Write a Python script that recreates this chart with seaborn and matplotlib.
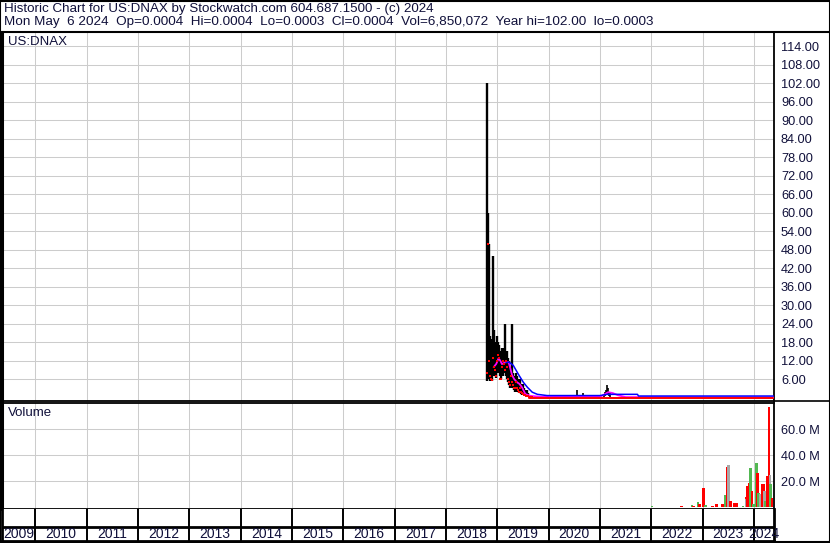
import matplotlib
matplotlib.use("Agg")

import matplotlib.pyplot as plt
import seaborn as sns
import numpy as np
from matplotlib.lines import Line2D

sns.set_style("white")
plt.rcParams["font.family"] = ["Liberation Sans", "DejaVu Sans"]

# header text
title_1 = "Historic Chart for US:DNAX by Stockwatch.com 604.687.1500 - (c) 2024"
title_2 = ("Mon May  6 2024  Op=0.0004  Hi=0.0004  Lo=0.0003  Cl=0.0004  "
           "Vol=6,850,072  Year hi=102.00  lo=0.0003")
symbol = "US:DNAX"

# weekly bars, first week late Oct 2018 (decimal years on the x axis)
first_week = 2018.805
price_high = [102, 60, 50, 20, 19, 17, 46, 22, 18, 17,
              20, 18, 17, 15, 14, 16, 14, 16, 24, 14,
              15, 13, 12, 10, 9, 24, 8, 7, 6, 8,
              7, 6, 5, 6, 4.5, 4, 4.4, 3, 2.5, 2,
              2.5, 1.5, 1, 0.8, 0.6, 0.5]
price_low = [5.5, 6, 6, 5.5, 6, 5.5, 7, 8, 7, 6.5,
             8, 8, 9, 7, 6, 8, 7, 9, 8, 7,
             6, 5, 4, 3, 4, 3, 3, 2.5, 2, 2.5,
             2, 2, 1.5, 1.5, 1.2, 1, 1, 0.8, 0.6, 0.5,
             0.4, 0.3, 0.3, 0.2, 0.2, 0.1]
price_close = [8, 50, 12, 7, 6, 5.6, 13, 10, 9, 7,
               12, 14, 13, 6, 6, 10, 12, 11, 9, 12,
               10, 6, 5, 4, 7, 5, 4, 3, 3, 5,
               3, 2.5, 2, 3, 2, 1.5, 1.2, 1, 0.8, 0.6,
               0.5, 0.4, 0.3, 0.3, 0.2, 0.2]

# later sparse bars (2020 - 2021)
late_week = [2020.03, 2020.13, 2020.46, 2020.56, 2020.67,
             2021.08, 2021.10, 2021.12, 2021.14, 2021.16, 2021.18, 2021.20]
late_high = [0.7, 0.5, 0.8, 2.5, 1.5, 1.2, 2.0, 2.5, 4.0, 3.0, 2.0, 1.5]
late_low = [0.1, 0.1, 0.1, 0.2, 0.2, 0.3, 0.5, 0.8, 1.0, 0.8, 0.5, 0.3]

# close near zero after 2019
tail_week = [2019.62, 2024.38]
tail_close = [0.0, 0.0]

# moving averages
ma_short_x = [2018.928, 2018.98, 2019.025, 2019.058, 2019.09, 2019.156, 2019.22,
              2019.253, 2019.287, 2019.33, 2019.384, 2019.43, 2019.48, 2019.546,
              2019.643, 2019.84, 2021.0, 2021.1, 2021.16, 2021.25, 2021.35,
              2021.5, 2024.38]
ma_short = [9.9, 11, 12.8, 12, 10.9, 11.5, 11.5, 9.5, 7.3, 6, 5, 4.5, 3.4, 1.2,
            0.6, 0.3, 0.3, 1.2, 1.8, 1.5, 0.8, 0.2, 0.1]
ma_long_x = [2019.17, 2019.233, 2019.31, 2019.41, 2019.507, 2019.585, 2019.68,
             2019.78, 2019.97, 2021.0, 2021.14, 2021.73, 2021.75, 2024.38]
ma_long = [11.5, 11.5, 10.5, 7.6, 5, 3.4, 1.8, 1.1, 0.7, 0.7, 1.1, 1.1, 0.55, 0.55]

# volume (millions)
vol_week = [2022.016, 2022.587, 2022.795, 2022.82, 2022.91, 2022.937, 2023.021,
            2023.05, 2023.19, 2023.27, 2023.386, 2023.425, 2023.45, 2023.477,
            2023.509, 2023.54, 2023.62, 2023.66, 2023.79, 2023.848, 2023.855,
            2023.87, 2023.90, 2023.93, 2023.96, 2023.99, 2024.05, 2024.07,
            2024.09, 2024.13, 2024.16, 2024.19, 2024.20, 2024.22, 2024.25,
            2024.29, 2024.31, 2024.32, 2024.35]
vol_m = [0.5, 0.6, 1.5, 1.0, 4.0, 2.5, 14.8,
         1.5, 0.6, 2.0, 2.0, 2.0, 9.0, 31.0,
         32.0, 5.0, 3.0, 3.0, 1.0, 7.5, 6.0,
         16.0, 18.5, 30.0, 12.0, 2.0, 34.0, 26.0,
         11.0, 10.0, 17.5, 17.5, 12.5, 4.6, 24.0,
         77.0, 24.6, 18.0, 7.0]
vol_kind = ["up", "down", "up", "down", "up", "down", "down",
            "up", "down", "down", "down", "down", "up", "down",
            "flat", "down", "down", "down", "up", "down", "flat",
            "down", "down", "up", "down", "up", "up", "down",
            "up", "flat", "down", "down", "flat", "up", "down",
            "down", "flat", "up", "down"]

price_ticks = list(range(6, 115, 6))
vol_ticks = [20, 40, 60]
years = list(range(2009, 2025))

W, H = 830, 543
X0, X1 = 2009.35, 2024.39
GRID = "#cccccc"
TXT = "#10103a"
kind_colors = {"up": "#52b852", "down": "#ff0000", "flat": "#a8a8a8"}


def box(x0, y0, x1, y1):
    return [x0 / W, 1 - y1 / H, (x1 - x0) / W, (y1 - y0) / H]


fig = plt.figure(figsize=(W / 100, H / 100), dpi=100)
fig.patch.set_facecolor("white")

ax_p = fig.add_axes(box(2, 32, 774, 400.5))
ax_v = fig.add_axes(box(2, 403, 774, 509))
ax_y = fig.add_axes(box(2, 509, 774, 541))

bounds = years[1:]
for ax in (ax_p, ax_v):
    ax.set_xlim(X0, X1)
    ax.set_xticks(bounds)
    ax.set_xticklabels([])
    ax.grid(True, color=GRID, lw=0.75)
    ax.yaxis.tick_right()
    ax.tick_params(axis="both", length=0)
    ax.tick_params(axis="y", pad=5, labelsize=9.2, labelcolor=TXT)
    for s in ax.spines.values():
        s.set_color("black")
        s.set_linewidth(1.3)
    ax.spines["left"].set_linewidth(2.2)
    ax.set_axisbelow(True)

# price panel
ax_p.set_ylim(-0.9, 118.6)
ax_p.set_yticks(price_ticks)
ax_p.set_yticklabels([f"{v:.2f}" for v in price_ticks])

weeks = first_week + np.arange(len(price_high)) / 52
ax_p.vlines(weeks, price_low, price_high, color="black", lw=1.7, zorder=3)
ax_p.vlines(late_week, late_low, late_high, color="black", lw=1.2, zorder=3)
sns.lineplot(x=ma_short_x, y=ma_short, ax=ax_p, color="#ff00ff", lw=1.3,
             sort=False, estimator=None, zorder=4)
sns.lineplot(x=ma_long_x, y=ma_long, ax=ax_p, color="#0000ff", lw=1.1,
             sort=False, estimator=None, zorder=4)
sns.lineplot(x=tail_week, y=tail_close, ax=ax_p, color="#ff0000", lw=1.4,
             sort=False, estimator=None, zorder=5)
ax_p.scatter(weeks, price_close, marker="s", s=4, color="#ff0000", lw=0, zorder=5)
ax_p.set_xlabel("")
ax_p.set_ylabel("")
ax_p.text(6 / 772, 1 - 10 / 368.5, symbol, transform=ax_p.transAxes,
          ha="left", va="center", fontsize=9.5, color=TXT)

# volume panel
ax_v.set_ylim(-1.5, 80)
ax_v.set_yticks(vol_ticks)
ax_v.set_yticklabels([f"{v:.1f} M" for v in vol_ticks])
ax_v.bar(vol_week, vol_m, width=0.05, color=[kind_colors[k] for k in vol_kind],
         lw=0, zorder=3)
ax_v.text(6 / 772, 1 - 10 / 106, "Volume", transform=ax_v.transAxes,
          ha="left", va="center", fontsize=9.5, color=TXT)

# year row
ax_y.set_xlim(X0, X1)
ax_y.set_ylim(0, 1)
ax_y.set_xticks([])
ax_y.set_yticks([])
for s in ax_y.spines.values():
    s.set_color("black")
    s.set_linewidth(2)
ax_y.spines["top"].set_visible(False)
ax_y.vlines(bounds, 0, 1, color="black", lw=1.4)
ax_y.axhline(14 / 32, color="black", lw=2)
for yr in years:
    lo, hi = max(yr, X0), min(yr + 1, X1)
    ax_y.text((lo + hi) / 2, 7 / 32, str(yr), ha="center", va="center",
              fontsize=10, color=TXT)

# frame lines and header
fig.add_artist(Line2D([0, 1], [1 - 32 / H] * 2, color="black", lw=1.5))
fig.add_artist(Line2D([774 / W, 1], [1 - 400.5 / H] * 2, color="black", lw=1.2))
fig.add_artist(Line2D([0, 1, 1, 0, 0], [0.001, 0.001, 0.999, 0.999, 0.001],
                      color="black", lw=1.5))
fig.text(4 / W, 1 - 9 / H, title_1, ha="left", va="center", fontsize=9.6, color=TXT)
fig.text(4 / W, 1 - 22 / H, title_2, ha="left", va="center", fontsize=9.7, color=TXT)

fig.savefig("out.png", dpi=100)
